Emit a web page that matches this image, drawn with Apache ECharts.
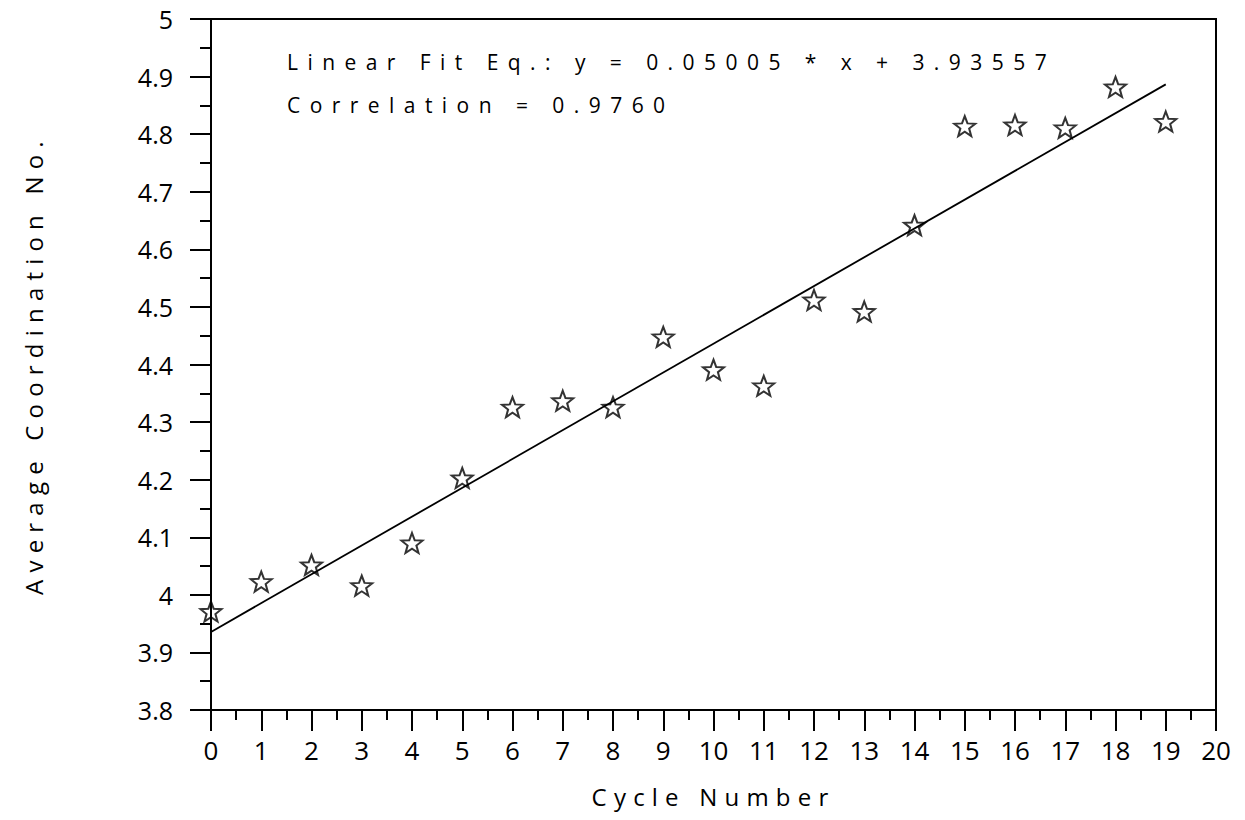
<!DOCTYPE html>
<html>
<head>
<meta charset="utf-8">
<script src="https://cdn.jsdelivr.net/npm/echarts@6/dist/echarts.min.js"></script>
<style>
  html, body { margin: 0; padding: 0; background: #fff; }
  #chart { width: 1245px; height: 820px; }
  /* the plotter font is widely spaced; emulate it per text group */
  #chart text[style*="21px"] { letter-spacing: 0.45em; }
  #chart text[style*="24px"] { letter-spacing: 0.3em; }
</style>
</head>
<body>
<div id="chart"></div>
<script>
// cycle numbers and measured average coordination numbers
const cycles = [0, 1, 2, 3, 4, 5, 6, 7, 8, 9, 10, 11, 12, 13, 14, 15, 16, 17, 18, 19];
const coordNo = [3.971, 4.023, 4.052, 4.016, 4.090, 4.203, 4.326, 4.337, 4.326, 4.448,
                 4.391, 4.363, 4.512, 4.492, 4.642, 4.814, 4.816, 4.811, 4.882, 4.822];
// linear fit line end points
const fitX = [0, 19];
const fitY = [3.9356, 4.8865];
const fitText = 'Linear Fit Eq.: y = 0.05005 * x + 3.93557';
const corrText = 'Correlation = 0.9760';

const FONT = "'Open Sans', 'DejaVu Sans', sans-serif";
const STAR = 'path://M50 0 L62.34 33.01 L97.55 34.55 L69.97 56.49 L79.39 90.45 L50 71 L20.61 90.45 L30.03 56.49 L2.45 34.55 L37.66 33.01 Z';

const chart = echarts.init(document.getElementById('chart'), null, { renderer: 'svg' });

chart.setOption({
  backgroundColor: '#fff',
  animation: false,
  grid: {
    left: 211, right: 29, top: 19, bottom: 110,
    show: true, borderColor: '#000', borderWidth: 2
  },
  xAxis: {
    type: 'value', min: 0, max: 20, interval: 1,
    name: 'Cycle Number', nameLocation: 'middle', nameGap: 74,
    nameTextStyle: { fontSize: 24, fontFamily: FONT, color: '#000' },
    axisLine: { lineStyle: { color: '#000', width: 2 } },
    axisTick: { length: 21, lineStyle: { color: '#000', width: 2 } },
    minorTick: { show: true, splitNumber: 2, length: 10, lineStyle: { color: '#000', width: 2 } },
    axisLabel: { fontSize: 26, fontFamily: FONT, color: '#000', margin: 27 },
    splitLine: { show: false }
  },
  yAxis: {
    type: 'value', min: 3.8, max: 5, interval: 0.1,
    name: 'Average Coordination No.', nameLocation: 'middle', nameRotate: 90, nameGap: 166,
    nameTextStyle: { fontSize: 24, fontFamily: FONT, color: '#000' },
    axisLine: { show: true, lineStyle: { color: '#000', width: 2 } },
    axisTick: { show: true, length: 21, lineStyle: { color: '#000', width: 2 } },
    minorTick: { show: true, splitNumber: 2, length: 11, lineStyle: { color: '#000', width: 2 } },
    axisLabel: {
      fontSize: 25, fontFamily: FONT, color: '#000', margin: 38,
      formatter: (v) => String(+v.toFixed(2))
    },
    splitLine: { show: false }
  },
  graphic: [
    {
      type: 'text', x: 287, y: 62,
      style: { text: fitText, fontSize: 21, fontFamily: FONT, fill: '#000', verticalAlign: 'middle' }
    },
    {
      type: 'text', x: 287, y: 105,
      style: { text: corrText, fontSize: 21, fontFamily: FONT, fill: '#000', verticalAlign: 'middle' }
    }
  ],
  series: [
    {
      type: 'line',
      data: fitX.map((x, i) => [x, fitY[i]]),
      showSymbol: false,
      lineStyle: { color: '#000', width: 1.8 },
      z: 3
    },
    {
      type: 'scatter',
      data: cycles.map((c, i) => [c, coordNo[i]]),
      symbol: STAR,
      symbolSize: [21, 20],
      itemStyle: { color: 'rgba(255,255,255,0)', borderColor: '#000', borderWidth: 2 },
      z: 2
    }
  ]
});
</script>
</body>
</html>
